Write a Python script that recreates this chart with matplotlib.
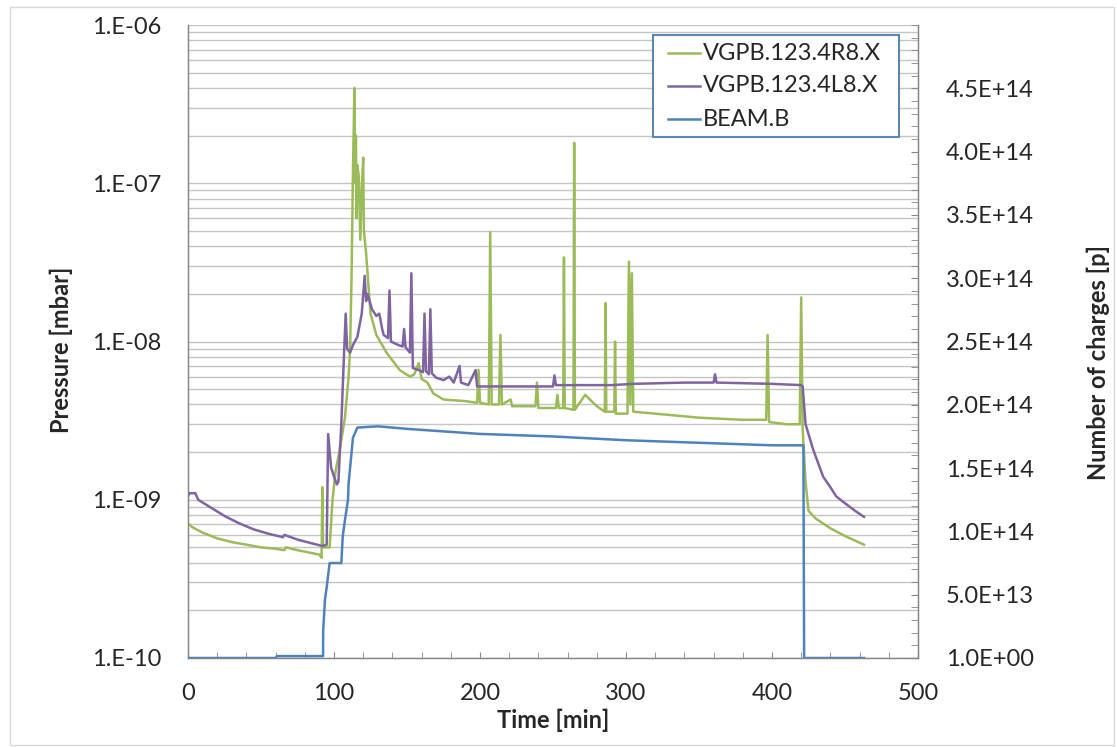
import matplotlib
matplotlib.use("Agg")
import matplotlib.pyplot as plt
from matplotlib.ticker import FixedLocator, FixedFormatter, MultipleLocator, LogLocator, NullFormatter
from matplotlib.lines import Line2D
from matplotlib.patches import Rectangle

plt.rcParams['font.family'] = ['Lato', 'DejaVu Sans']

# ---------------- data ----------------
green_t = [0, 3, 10, 20, 30, 40, 50, 60, 66, 67, 75, 85, 90, 91.5, 92, 92.5, 97, 99, 101, 104,
           107.5, 110, 111, 112, 113, 114, 114.5, 115, 115.5, 116, 117, 118, 119, 120, 120.5,
           122, 125, 129, 136, 145, 152, 155, 158, 160, 164, 168, 175, 190, 198, 199, 200,
           206, 207, 208, 213, 214, 215, 221, 222, 238, 239, 240, 252, 253, 254, 257, 257.5,
           258, 264, 264.5, 265, 272, 280, 285.5, 286, 286.5, 292, 292.5, 293, 301, 302, 303,
           304, 305, 320, 350, 380, 396, 397, 398, 410, 419, 420, 421, 423, 425, 430, 440,
           450, 463]
green_p = [7.1e-10, 6.7e-10, 6.2e-10, 5.7e-10, 5.4e-10, 5.2e-10, 5.0e-10, 4.9e-10, 4.8e-10,
           5.0e-10, 4.8e-10, 4.6e-10, 4.5e-10, 4.3e-10, 1.2e-9, 5.0e-10, 5.0e-10, 1.0e-9,
           1.5e-9, 2.1e-9, 3.3e-9, 6e-9, 8.9e-9, 2.5e-8, 1.2e-7, 4.0e-7, 1.0e-7, 2.0e-7, 6e-8,
           1.3e-7, 1.1e-7, 4.4e-8, 9e-8, 1.45e-7, 5e-8, 3.6e-8, 1.5e-8, 1.1e-8, 8.5e-9, 6.6e-9,
           6.0e-9, 6.2e-9, 7.3e-9, 5.8e-9, 5.5e-9, 4.7e-9, 4.3e-9, 4.2e-9, 4.1e-9, 6.6e-9,
           4.1e-9, 4.0e-9, 4.9e-8, 4.0e-9, 4.0e-9, 1.1e-8, 4.0e-9, 4.3e-9, 3.9e-9, 3.9e-9,
           5.5e-9, 3.8e-9, 3.8e-9, 4.6e-9, 3.8e-9, 3.8e-9, 3.4e-8, 3.8e-9, 3.7e-9, 1.8e-7,
           3.7e-9, 4.6e-9, 3.9e-9, 3.6e-9, 1.75e-8, 3.6e-9, 3.6e-9, 1.0e-8, 3.5e-9, 3.5e-9,
           3.2e-8, 4.0e-9, 2.7e-8, 3.6e-9, 3.5e-9, 3.3e-9, 3.2e-9, 3.2e-9, 1.1e-8, 3.1e-9,
           3.0e-9, 3.0e-9, 1.9e-8, 2.8e-9, 1.3e-9, 8.5e-10, 7.6e-10, 6.6e-10, 5.9e-10, 5.2e-10]

purple_t = [0, 1, 5, 7, 15, 25, 35, 45, 55, 65, 66, 75, 85, 92, 95, 96, 98, 100, 102, 103, 105,
            107, 108, 109, 111, 113, 116, 119, 121, 122, 123, 126, 129, 131, 133, 134, 137,
            138, 139, 144, 147, 148, 149, 152, 153, 154, 158, 161, 162, 163, 165, 166, 167,
            170, 175, 179, 182, 186, 187, 192, 197, 198, 220, 250, 251, 252, 270, 290, 305,
            340, 360, 361, 362, 400, 420, 421, 423, 428, 435, 440, 444, 450, 457, 463]
purple_p = [1.05e-9, 1.1e-9, 1.1e-9, 1.0e-9, 9.0e-10, 7.9e-10, 7.1e-10, 6.5e-10, 6.1e-10,
            5.8e-10, 6.0e-10, 5.6e-10, 5.3e-10, 5.1e-10, 5.2e-10, 2.6e-9, 1.6e-9, 1.4e-9,
            1.25e-9, 1.3e-9, 3.0e-9, 8.9e-9, 1.5e-8, 9e-9, 8.5e-9, 9.5e-9, 1.07e-8, 1.5e-8,
            2.6e-8, 1.8e-8, 2.0e-8, 1.6e-8, 1.45e-8, 1.5e-8, 1.2e-8, 1.1e-8, 1.05e-8, 2.1e-8,
            1.0e-8, 9.5e-9, 9.3e-9, 1.2e-8, 9.2e-9, 8.5e-9, 2.7e-8, 6.8e-9, 6.6e-9, 6.4e-9,
            1.5e-8, 6.5e-9, 6.2e-9, 1.6e-8, 6.3e-9, 5.9e-9, 5.7e-9, 6.0e-9, 5.5e-9, 7.0e-9,
            5.5e-9, 5.3e-9, 6.6e-9, 5.2e-9, 5.2e-9, 5.2e-9, 6.1e-9, 5.3e-9, 5.3e-9, 5.3e-9,
            5.4e-9, 5.5e-9, 5.5e-9, 6.2e-9, 5.5e-9, 5.4e-9, 5.3e-9, 5.2e-9, 3.0e-9, 2.1e-9,
            1.4e-9, 1.2e-9, 1.05e-9, 9.5e-10, 8.5e-10, 7.8e-10]

beam_t = [0, 60, 61, 92.5, 92.6, 93.8, 95, 97, 105, 106, 107.5, 109.6, 110, 113, 116, 130, 150,
          200, 250, 300, 350, 400, 421.5, 422, 463]
beam_n = [0, 0, 1.5e12, 1.5e12, 2.2e13, 4.6e13, 5.6e13, 7.5e13, 7.5e13, 9.6e13, 1.09e14,
          1.25e14, 1.38e14, 1.74e14, 1.82e14, 1.83e14, 1.81e14, 1.77e14, 1.75e14, 1.72e14,
          1.70e14, 1.68e14, 1.68e14, 0, 0]

series_names = ['VGPB.123.4R8.X', 'VGPB.123.4L8.X', 'BEAM.B']
left_ticks = [1e-10, 1e-9, 1e-8, 1e-7, 1e-6]
left_labels = ['1.E-10', '1.E-09', '1.E-08', '1.E-07', '1.E-06']
right_ticks = [0, 5e13, 1e14, 1.5e14, 2e14, 2.5e14, 3e14, 3.5e14, 4e14, 4.5e14]
right_labels = ['1.0E+00', '5.0E+13', '1.0E+14', '1.5E+14', '2.0E+14', '2.5E+14',
                '3.0E+14', '3.5E+14', '4.0E+14', '4.5E+14']

# ---------------- style ----------------
C_GREEN = '#9BBB59'
C_PURPLE = '#8064A2'
C_BLUE = '#4F81BD'
C_GRID = '#C4C4C4'
C_AXIS = '#868686'
C_TEXT = '#262626'
FS = 17
LW = 1.8

W, H = 1117, 747
fig = plt.figure(figsize=(W / 100, H / 100), dpi=100)
L, R, B, T = 188, 918, 658, 25
ax = fig.add_axes([L / W, 1 - B / H, (R - L) / W, (B - T) / H])

ax.plot(green_t, green_p, color=C_GREEN, lw=LW, zorder=3)
ax.plot(purple_t, purple_p, color=C_PURPLE, lw=LW, zorder=4)
ax.set_yscale('log')
ax.set_ylim(1e-10, 1e-6)
ax.set_xlim(0, 500)

ax.yaxis.set_major_locator(FixedLocator(left_ticks))
ax.yaxis.set_major_formatter(FixedFormatter(left_labels))
ax.yaxis.set_minor_locator(LogLocator(base=10, subs=range(2, 10), numticks=20))
ax.yaxis.set_minor_formatter(NullFormatter())
ax.grid(True, which='both', axis='y', color=C_GRID, lw=1.0, zorder=0)
ax.set_axisbelow(True)
ax.tick_params(axis='y', which='both', length=0, pad=19, labelsize=FS, labelcolor=C_TEXT)

ax.xaxis.set_major_locator(MultipleLocator(100))
ax.xaxis.set_minor_locator(MultipleLocator(20))
ax.tick_params(axis='x', which='both', direction='in', length=4, color=C_AXIS,
               pad=18, labelsize=FS, labelcolor=C_TEXT)

ax.spines['top'].set_visible(False)
for s in ['left', 'bottom', 'right']:
    ax.spines[s].set_color(C_AXIS)
    ax.spines[s].set_linewidth(1.0)

ax2 = ax.twinx()
ax2.plot(beam_t, beam_n, color=C_BLUE, lw=LW, zorder=5)
ax2.set_ylim(0, 5e14)
ax2.yaxis.set_major_locator(FixedLocator(right_ticks))
ax2.yaxis.set_major_formatter(FixedFormatter(right_labels))
ax2.yaxis.set_minor_locator(MultipleLocator(1e13))
ax2.tick_params(axis='y', which='both', direction='in', length=5, color=C_AXIS,
                pad=20, labelsize=FS, labelcolor=C_TEXT)
ax2.spines['top'].set_visible(False)
for s in ['left', 'bottom', 'right']:
    ax2.spines[s].set_color(C_AXIS)

# axis titles
fig.text(61 / W, 1 - 350 / H, 'Pressure [mbar]', rotation=90, ha='center', va='center',
         fontsize=FS, fontweight='bold', color=C_TEXT)
fig.text(1098 / W, 1 - 362 / H, 'Number of charges [p]', rotation=90, ha='center',
         va='center', fontsize=FS, fontweight='bold', color=C_TEXT)
fig.text(553 / W, 1 - 720 / H, 'Time [min]', ha='center', va='center',
         fontsize=FS, fontweight='bold', color=C_TEXT)

# legend (drawn in figure pixel positions)
fig.patches.append(Rectangle((653 / W, 1 - 137 / H), (899 - 653) / W, (137 - 35) / H,
                             transform=fig.transFigure, facecolor='white',
                             edgecolor='#5B87B8', lw=1.5, zorder=10))
for i, (name, col) in enumerate(zip(series_names, (C_GREEN, C_PURPLE, C_BLUE))):
    yc = 1 - (53 + 33 * i) / H
    fig.lines.append(Line2D([668 / W, 700 / W], [yc, yc], transform=fig.transFigure,
                            color=col, lw=LW, zorder=11))
    fig.text(703 / W, yc, name, ha='left', va='center', fontsize=FS, color=C_TEXT,
             zorder=11)

# outer frame
fig.patches.append(Rectangle((10 / W, 1 - 745 / H), (1114 - 10) / W, (745 - 7) / H,
                             transform=fig.transFigure, fill=False,
                             edgecolor='#D9D9D9', lw=1.0))

fig.savefig('out.png', dpi=100)
